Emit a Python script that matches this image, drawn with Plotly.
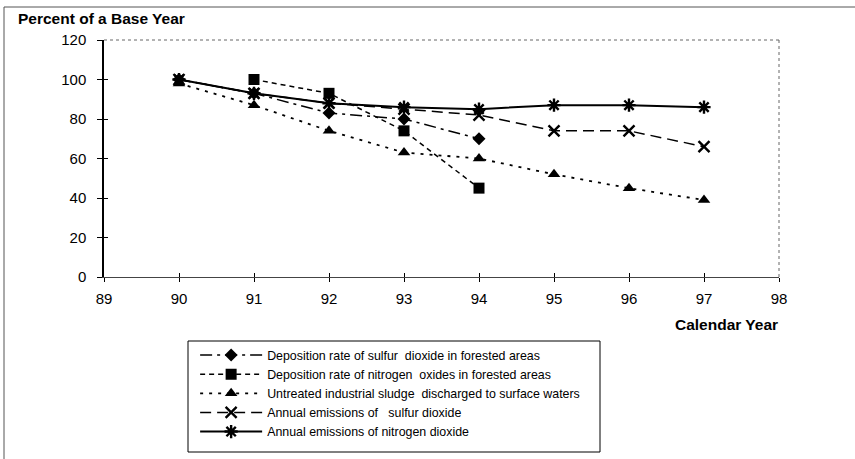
import plotly.graph_objects as go

# Calendar years (two-digit) and percent-of-base-year values per indicator
years = [90, 91, 92, 93, 94, 95, 96, 97]

so2_deposition = [100, 93, 83, 80, 70]          # 90-94
nox_years = [91, 92, 93, 94]
nox_deposition = [100, 93, 74, 45]              # 91-94
sludge = [98, 87, 74, 63, 60, 52, 45, 39]        # 90-97
so2_emissions = [100, 93, 88, 85, 82, 74, 74, 66]
no2_emissions = [100, 93, 88, 86, 85, 87, 87, 86]

x_ticks = [89, 90, 91, 92, 93, 94, 95, 96, 97, 98]
y_ticks = [0, 20, 40, 60, 80, 100, 120]

NB = "\u00a0"
names = [
    "Deposition rate of sulfur" + NB + " dioxide in forested areas",
    "Deposition rate of nitrogen" + NB + " oxides in forested areas",
    "Untreated industrial sludge" + NB + " discharged to surface waters",
    "Annual emissions of" + NB + NB + " sulfur dioxide",
    "Annual emissions of nitrogen dioxide",
]

FONT = "Arial, Liberation Sans, sans-serif"

fig = go.Figure()

fig.add_trace(go.Scatter(
    x=years[:5], y=so2_deposition, name=names[0], mode="lines+markers",
    line=dict(color="black", width=1.5, dash="12px,5px,3px,5px"),
    marker=dict(symbol="diamond", size=10, color="black"),
))
fig.add_trace(go.Scatter(
    x=nox_years, y=nox_deposition, name=names[1], mode="lines+markers",
    line=dict(color="black", width=1.5, dash="5px,4px"),
    marker=dict(symbol="square", size=11, color="black"),
))
fig.add_trace(go.Scatter(
    x=years, y=sludge, name=names[2], mode="lines+markers",
    line=dict(color="black", width=1.8, dash="3px,6px"),
    marker=dict(symbol="triangle-up", size=11, color="black"),
))
fig.add_trace(go.Scatter(
    x=years, y=so2_emissions, name=names[3], mode="lines+markers",
    line=dict(color="black", width=1.5, dash="11px,6px"),
    marker=dict(symbol="x-thin-open", size=11, color="black",
                line=dict(color="black", width=2.4)),
))
fig.add_trace(go.Scatter(
    x=years, y=no2_emissions, name=names[4], mode="lines+markers",
    line=dict(color="black", width=2),
    marker=dict(symbol="asterisk-open", size=11, color="black",
                line=dict(color="black", width=2.4)),
))

axis_font = dict(family=FONT, size=15, color="black")

fig.update_layout(
    width=855, height=459,
    margin=dict(l=104, r=76, t=40, b=182),
    paper_bgcolor="white", plot_bgcolor="white",
    font=dict(family=FONT, color="black"),
    showlegend=True,
    legend=dict(
        x=0.135, y=-0.268, xanchor="left", yanchor="top",
        font=dict(family=FONT, size=12.4, color="black"),
        bgcolor="rgba(0,0,0,0)", borderwidth=0,
        itemwidth=62, tracegroupgap=0,
    ),
    xaxis=dict(
        range=[89, 98], tickvals=x_ticks, ticktext=[str(v) for v in x_ticks],
        showgrid=False, zeroline=False, showline=True, linecolor="#444",
        linewidth=1, ticks="outside", ticklen=4, tickcolor="black",
        tickfont=axis_font, ticklabelstandoff=4,
    ),
    yaxis=dict(
        range=[0, 120], tickvals=y_ticks, showgrid=False, zeroline=False,
        showline=True, linecolor="black", linewidth=1.5, ticks="outside",
        ticklen=5, tickcolor="black", tickfont=axis_font, ticklabelstandoff=8,
    ),
    xaxis2=dict(
        range=[89, 98], tickvals=x_ticks, overlaying="x", anchor="y",
        showticklabels=False, showgrid=False, zeroline=False, showline=False,
        ticks="inside", ticklen=4, tickcolor="black",
    ),
    yaxis2=dict(
        range=[0, 120], tickvals=y_ticks, overlaying="y", anchor="x",
        showticklabels=False, showgrid=False, zeroline=False, showline=False,
        ticks="inside", ticklen=4, tickcolor="black",
    ),
)

# invisible point so the overlay tick axes are drawn
fig.add_trace(go.Scatter(x=[89], y=[0], xaxis="x2", yaxis="y2",
                         mode="markers", marker=dict(opacity=0),
                         showlegend=False, hoverinfo="skip"))

# dotted top and right edges of the plotting area
fig.add_shape(type="line", xref="paper", yref="paper", x0=0, x1=1, y0=1, y1=1,
              line=dict(color="#666", width=1, dash="dot"))
fig.add_shape(type="line", xref="paper", yref="paper", x0=1, x1=1, y0=0, y1=1,
              line=dict(color="#666", width=1, dash="dot"))

# legend frame
fig.add_shape(type="rect", xref="paper", yref="paper",
              x0=(188 - 104) / 675, x1=(600 - 104) / 675,
              y0=(277 - 452) / 237, y1=(277 - 341) / 237,
              line=dict(color="black", width=1))

# outer chart frame (top and left edges)
fig.add_shape(type="line", xref="paper", yref="paper",
              x0=(4 - 104) / 675, x1=(860 - 104) / 675,
              y0=(277 - 7) / 237, y1=(277 - 7) / 237,
              line=dict(color="#555", width=1))
fig.add_shape(type="line", xref="paper", yref="paper",
              x0=(4 - 104) / 675, x1=(4 - 104) / 675,
              y0=(277 - 7) / 237, y1=(277 - 465) / 237,
              line=dict(color="#555", width=1))

fig.add_annotation(text="<b>Percent of a Base Year</b>", xref="paper", yref="paper",
                   x=(16 - 104) / 675, y=(277 - 19) / 237, xanchor="left",
                   yanchor="middle", showarrow=False,
                   font=dict(family=FONT, size=15.5, color="black"))
fig.add_annotation(text="<b>Calendar Year</b>", xref="paper", yref="paper",
                   x=(780 - 104) / 675, y=(277 - 324) / 237, xanchor="right",
                   yanchor="middle", showarrow=False,
                   font=dict(family=FONT, size=15.5, color="black"))

fig.write_html("out.html")
